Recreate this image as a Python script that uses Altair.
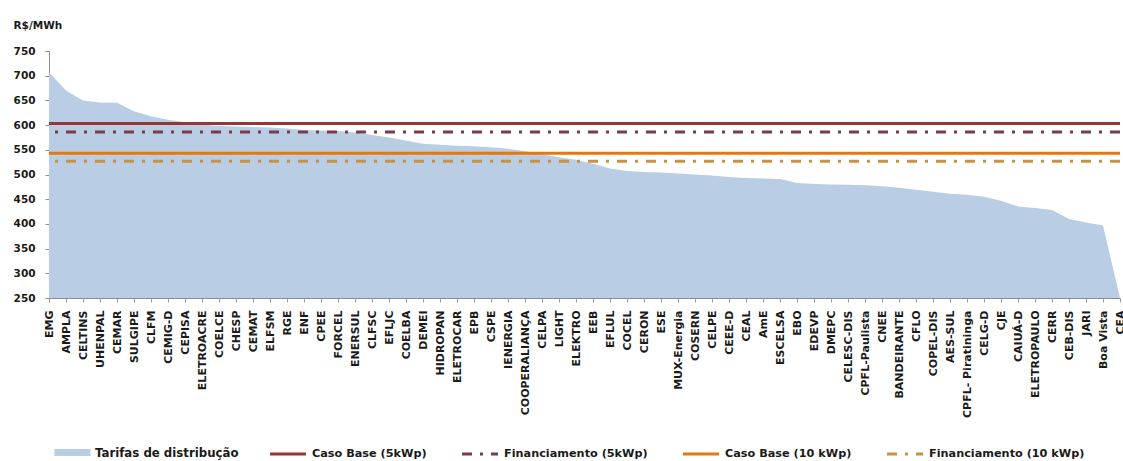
import altair as alt
import pandas as pd

companies = [
    "EMG", "AMPLA", "CELTINS", "UHENPAL", "CEMAR", "SULGIPE", "CLFM", "CEMIG-D",
    "CEPISA", "ELETROACRE", "COELCE", "CHESP", "CEMAT", "ELFSM", "RGE", "ENF",
    "CPEE", "FORCEL", "ENERSUL", "CLFSC", "EFLJC", "COELBA", "DEMEI", "HIDROPAN",
    "ELETROCAR", "EPB", "CSPE", "IENERGIA", "COOPERALIANÇA", "CELPA", "LIGHT",
    "ELEKTRO", "EEB", "EFLUL", "COCEL", "CERON", "ESE", "MUX-Energia", "COSERN",
    "CELPE", "CEEE-D", "CEAL", "AmE", "ESCELSA", "EBO", "EDEVP", "DMEPC",
    "CELESC-DIS", "CPFL-Paulista", "CNEE", "BANDEIRANTE", "CFLO", "COPEL-DIS",
    "AES-SUL", "CPFL- Piratininga", "CELG-D", "CJE", "CAIUÁ-D", "ELETROPAULO",
    "CERR", "CEB-DIS", "JARI", "Boa Vista", "CEA",
]
tariffs = [
    707, 670, 650, 646, 645, 628, 618, 611,
    606, 601, 598, 597, 596, 595, 593, 590,
    589, 588, 585, 580, 575, 569, 562, 560,
    558, 557, 555, 552, 547, 541, 535,
    530, 522, 512, 507, 505, 504, 502, 500,
    498, 495, 493, 492, 491, 483, 481, 480,
    479, 478, 476, 473, 469, 465,
    461, 459, 455, 447, 435, 432,
    428, 410, 403, 397, 250,
]

area_name = "Tarifas de distribução"
area_color = "#B9CDE5"
line_names = ["Caso Base (5kWp)", "Financiamento (5kWp)", "Caso Base (10 kWp)", "Financiamento (10 kWp)"]
line_values = [603, 586, 543, 527]
line_colors = ["#953735", "#7A3B4B", "#E4780F", "#C99242"]
line_dashes = [[1, 0], [10, 8, 3, 8], [1, 0], [10, 8, 3, 8]]

FONT = "DejaVu Sans"
TXT = "#1a1a1a"

area_df = pd.DataFrame({"distribuidora": companies, "tarifa": tariffs, "serie": area_name})
lines_df = pd.DataFrame({"serie": line_names, "valor": line_values})

legend_common = dict(
    title=None,
    orient="none",
    direction="horizontal",
    labelFont=FONT,
    labelFontWeight="bold",
    labelColor=TXT,
    labelLimit=400,
)

area_legend = alt.Legend(
    legendX=5,
    legendY=383,
    labelFontSize=11.75,
    symbolType="M-1,-0.2H1V0.2H-1Z",
    symbolSize=1300,
    symbolStrokeWidth=0,
    **legend_common,
)

line_legend = alt.Legend(
    legendX=219,
    legendY=383,
    labelFontSize=11.25,
    columns=4,
    columnPadding=28,
    symbolType="stroke",
    symbolSize=1300,
    symbolStrokeWidth=3,
    **legend_common,
)

y_axis = alt.Axis(
    values=list(range(250, 751, 50)),
    title="R$/MWh",
    titleAngle=0,
    titleAlign="left",
    titleBaseline="middle",
    titleX=-36,
    titleY=-26,
    titleFont=FONT,
    titleFontSize=10.5,
    titleFontWeight="bold",
    titleColor=TXT,
    labelFont=FONT,
    labelFontSize=10.5,
    labelFontWeight="bold",
    labelColor=TXT,
    labelPadding=10,
    tickSize=4,
    tickColor="#8c8c8c",
    domainColor="#8c8c8c",
    grid=False,
)
y_scale = alt.Scale(domain=[250, 750], nice=False, zero=False)

x_enc = alt.X(
    "distribuidora:N",
    sort=companies,
    scale=alt.Scale(padding=0),
    axis=alt.Axis(
        title=None,
        labelAngle=270,
        labelAlign="right",
        labelBaseline="middle",
        labelFont=FONT,
        labelFontSize=11,
        labelFontWeight="bold",
        labelColor=TXT,
        labelPadding=8,
        labelOverlap=False,
        labelLimit=300,
        tickSize=4,
        tickColor="#9a9a9a",
        domainColor="#8c8c8c",
        grid=False,
    ),
)

area = alt.Chart(area_df).mark_area(opacity=1, clip=True).encode(
    x=x_enc,
    y=alt.Y("tarifa:Q", scale=y_scale, axis=y_axis),
    fill=alt.Fill("serie:N", scale=alt.Scale(domain=[area_name], range=[area_color]), legend=area_legend),
)

rules = alt.Chart(lines_df).mark_rule(strokeWidth=3).encode(
    y=alt.Y("valor:Q", scale=y_scale, axis=y_axis),
    stroke=alt.Stroke("serie:N", sort=line_names, scale=alt.Scale(domain=line_names, range=line_colors), legend=line_legend),
    strokeDash=alt.StrokeDash("serie:N", sort=line_names, scale=alt.Scale(domain=line_names, range=line_dashes), legend=line_legend),
)

chart = (
    alt.layer(area, rules)
    .resolve_scale(fill="independent", stroke="independent", strokeDash="independent")
    .properties(
        width=1071,
        height=247,
        autosize=alt.AutoSizeParams(type="none"),
        padding={"left": 49, "top": 51, "right": 3, "bottom": 163},
        background="white",
    )
    .configure_view(stroke=None)
)

chart.save("out.html", embed_options={"renderer": "svg", "actions": False})
